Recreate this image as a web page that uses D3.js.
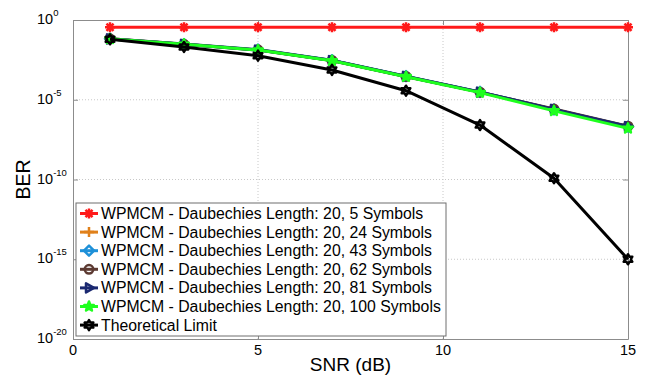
<!DOCTYPE html>
<html>
<head>
<meta charset="utf-8">
<script src="https://cdn.jsdelivr.net/npm/d3@7"></script>
<style>
  html, body { margin: 0; padding: 0; background: #fff; }
  svg { display: block; font-family: "Liberation Sans", Arial, sans-serif; }
</style>
</head>
<body>
<svg id="chart" width="649" height="376"></svg>
<script>
// SNR points (dB)
const snr = [1, 3, 5, 7, 9, 11, 13, 15];

// Bit error rate for each configuration
const ber5 = [0.35, 0.35, 0.35, 0.35, 0.35, 0.35, 0.35, 0.35];
const ber24 = [0.066, 0.031, 0.0135, 2.9e-3, 2.9e-4, 3.0e-5, 2.4e-6, 2.0e-7];
const ber43 = [0.067, 0.031, 0.014, 3.0e-3, 3.0e-4, 3.1e-5, 2.5e-6, 2.1e-7];
const ber62 = [0.066, 0.030, 0.0135, 2.9e-3, 2.9e-4, 3.0e-5, 2.6e-6, 2.2e-7];
const ber81 = [0.065, 0.030, 0.013, 2.9e-3, 2.9e-4, 3.0e-5, 2.5e-6, 2.1e-7];
const ber100 = [0.065, 0.030, 0.013, 2.8e-3, 2.8e-4, 2.8e-5, 2.0e-6, 1.6e-7];
const berTheory = [0.062, 0.0204, 5.8e-3, 7.4e-4, 3.7e-5, 2.6e-7, 1.2e-10, 1e-15];

const seriesNames = [
  "WPMCM - Daubechies Length: 20, 5 Symbols",
  "WPMCM - Daubechies Length: 20, 24 Symbols",
  "WPMCM - Daubechies Length: 20, 43 Symbols",
  "WPMCM - Daubechies Length: 20, 62 Symbols",
  "WPMCM - Daubechies Length: 20, 81 Symbols",
  "WPMCM - Daubechies Length: 20, 100 Symbols",
  "Theoretical Limit"
];
const seriesValues = [ber5, ber24, ber43, ber62, ber81, ber100, berTheory];
const seriesColors = ["#ff1a1a", "#e0801a", "#1e90d8", "#5c3a32", "#1a2870", "#1eff1e", "#000000"];
const seriesMarkers = ["asterisk", "plus", "diamond", "circle", "triangleRight", "pentagram", "hexagram"];

const xTicks = [0, 5, 10, 15];
const yTickExps = [0, -5, -10, -15, -20];

const svg = d3.select("#chart");
const margin = { left: 73, top: 20, right: 21, bottom: 37 };
const W = 649, H = 376;
const x0 = margin.left, x1 = W - margin.right;
const y0 = margin.top, y1 = H - margin.bottom;

const x = d3.scaleLinear().domain([0, 15]).range([x0, x1]);
const y = d3.scaleLog().domain([1e-20, 1]).range([y1, y0]);

const axisColor = "#8c8c8c";

// Grid lines (dotted)
const grid = svg.append("g");
xTicks.slice(1, -1).forEach(t => {
  grid.append("line").attr("x1", x(t)).attr("x2", x(t)).attr("y1", y0).attr("y2", y1)
    .attr("stroke", "#c8c8c8").attr("stroke-width", 1).attr("stroke-dasharray", "1,2");
});
yTickExps.slice(1, -1).forEach(e => {
  grid.append("line").attr("x1", x0).attr("x2", x1).attr("y1", y(Math.pow(10, e))).attr("y2", y(Math.pow(10, e)))
    .attr("stroke", "#c8c8c8").attr("stroke-width", 1).attr("stroke-dasharray", "1,2");
});

// Axes drawn with d3 axis generators, ticks pointing inward
const tickLen = 5;
const xAxisB = d3.axisBottom(x).tickValues(xTicks).tickSizeInner(-tickLen).tickSizeOuter(0).tickFormat("");
const xAxisT = d3.axisTop(x).tickValues(xTicks).tickSizeInner(-tickLen).tickSizeOuter(0).tickFormat("");
const yAxisL = d3.axisLeft(y).tickValues(yTickExps.map(e => Math.pow(10, e))).tickSizeInner(-tickLen).tickSizeOuter(0).tickFormat("");
const yAxisR = d3.axisRight(y).tickValues(yTickExps.map(e => Math.pow(10, e))).tickSizeInner(-tickLen).tickSizeOuter(0).tickFormat("");

function styleAxis(g) {
  g.selectAll("path, line").attr("stroke", axisColor).attr("stroke-width", 1);
}
svg.append("g").attr("transform", `translate(0,${y1})`).call(xAxisB).call(styleAxis);
svg.append("g").attr("transform", `translate(0,${y0})`).call(xAxisT).call(styleAxis);
svg.append("g").attr("transform", `translate(${x0},0)`).call(yAxisL).call(styleAxis);
svg.append("g").attr("transform", `translate(${x1},0)`).call(yAxisR).call(styleAxis);

// Tick labels
xTicks.forEach(t => {
  svg.append("text").attr("x", x(t)).attr("y", y1 + 15.5).attr("text-anchor", "middle")
    .attr("font-size", 14.5).attr("fill", "#000").text(t);
});
yTickExps.forEach(e => {
  const ty = y(Math.pow(10, e));
  const t = svg.append("text").attr("x", 37).attr("y", ty + 4).attr("font-size", 14.5).attr("fill", "#000");
  t.append("tspan").text("10");
  t.append("tspan").attr("dy", -8).attr("font-size", 9.5).text(e);
});

// Axis titles
svg.append("text").attr("x", (x0 + x1) / 2).attr("y", 371).attr("text-anchor", "middle")
  .attr("font-size", 19).attr("fill", "#000").text("SNR (dB)");
svg.append("text").attr("transform", `translate(30,${(y0 + y1) / 2}) rotate(-90)`)
  .attr("text-anchor", "middle").attr("font-size", 19.5).attr("fill", "#000").text("BER");

// Marker path builders (centred at 0,0)
function markerPath(kind, r) {
  const p = d3.path();
  if (kind === "asterisk") {
    for (let k = 0; k < 4; k++) {
      const a = k * Math.PI / 4;
      p.moveTo(-r * Math.cos(a), -r * Math.sin(a));
      p.lineTo(r * Math.cos(a), r * Math.sin(a));
    }
  } else if (kind === "plus") {
    p.moveTo(-r, 0); p.lineTo(r, 0); p.moveTo(0, -r); p.lineTo(0, r);
  } else if (kind === "diamond") {
    p.moveTo(0, -r); p.lineTo(r, 0); p.lineTo(0, r); p.lineTo(-r, 0); p.closePath();
  } else if (kind === "circle") {
    p.arc(0, 0, r * 0.85, 0, 2 * Math.PI); p.closePath();
  } else if (kind === "triangleRight") {
    p.moveTo(r, 0); p.lineTo(-r * 0.6, -r * 0.9); p.lineTo(-r * 0.6, r * 0.9); p.closePath();
  } else if (kind === "pentagram" || kind === "hexagram") {
    const n = kind === "pentagram" ? 5 : 6;
    const inner = kind === "pentagram" ? 0.42 : 0.58;
    for (let k = 0; k < 2 * n; k++) {
      const a = -Math.PI / 2 + k * Math.PI / n;
      const rr = k % 2 === 0 ? r : r * inner;
      if (k === 0) p.moveTo(rr * Math.cos(a), rr * Math.sin(a));
      else p.lineTo(rr * Math.cos(a), rr * Math.sin(a));
    }
    p.closePath();
  }
  return p.toString();
}

// Series lines and markers
const line = d3.line().x(d => x(d[0])).y(d => y(d[1]));
const plot = svg.append("g");
seriesValues.forEach((vals, i) => {
  const pts = snr.map((s, j) => [s, vals[j]]);
  const g = plot.append("g");
  g.append("path").attr("d", line(pts)).attr("fill", "none")
    .attr("stroke", seriesColors[i]).attr("stroke-width", 3).attr("stroke-linejoin", "round");
  const fillMarker = seriesMarkers[i] === "pentagram";
  g.selectAll("path.m").data(pts).enter().append("path").attr("class", "m")
    .attr("d", markerPath(seriesMarkers[i], 5))
    .attr("transform", d => `translate(${x(d[0])},${y(d[1])})`)
    .attr("fill", fillMarker ? seriesColors[i] : "none")
    .attr("stroke", seriesColors[i]).attr("stroke-width", 2.5).attr("stroke-linejoin", "round");
});

// Legend
const lg = svg.append("g");
const lx = 76, ly = 203, lw = 370, lh = 133, rowH = 18.6;
lg.append("rect").attr("x", lx).attr("y", ly).attr("width", lw).attr("height", lh)
  .attr("fill", "#fff").attr("stroke", "#6e6e6e").attr("stroke-width", 1);
seriesNames.forEach((name, i) => {
  const cy = ly + 10.5 + i * rowH;
  lg.append("line").attr("x1", lx + 4).attr("x2", lx + 22).attr("y1", cy).attr("y2", cy)
    .attr("stroke", seriesColors[i]).attr("stroke-width", 3);
  lg.append("path").attr("d", markerPath(seriesMarkers[i], 5))
    .attr("transform", `translate(${lx + 13},${cy})`)
    .attr("fill", seriesMarkers[i] === "pentagram" ? seriesColors[i] : "none")
    .attr("stroke", seriesColors[i]).attr("stroke-width", 2.5).attr("stroke-linejoin", "round");
  lg.append("text").attr("x", lx + 25).attr("y", cy + 5.5).attr("font-size", 15.8)
    .attr("fill", "#000").text(name);
});
</script>
</body>
</html>
